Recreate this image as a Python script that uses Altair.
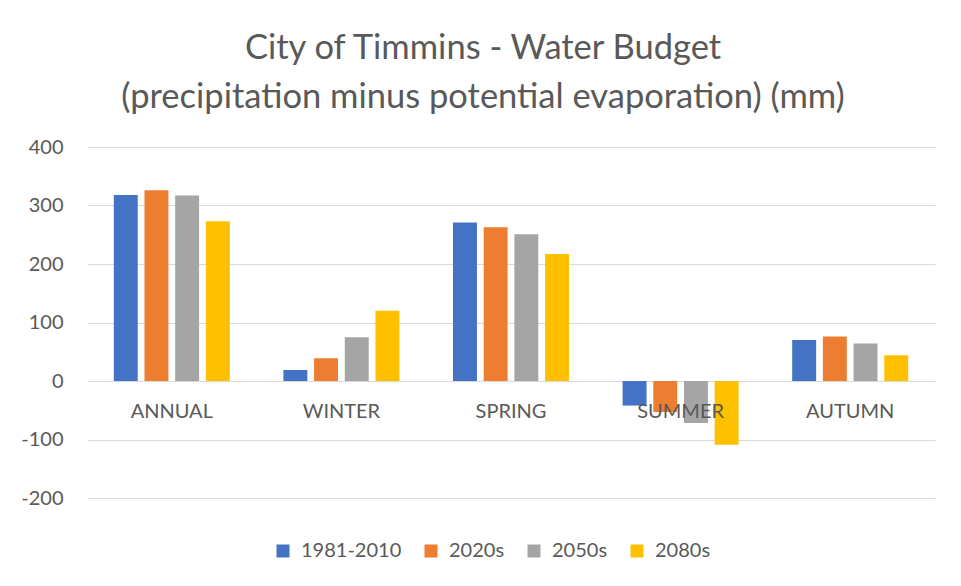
import altair as alt
import pandas as pd

categories = ["ANNUAL", "WINTER", "SPRING", "SUMMER", "AUTUMN"]
series = ["1981-2010", "2020s", "2050s", "2080s"]
colors = ["#4472C4", "#ED7D31", "#A5A5A5", "#FFC000"]
v_1981_2010 = [318, 19, 271, -42, 70]
v_2020s = [326, 39, 263, -53, 76]
v_2050s = [317, 75, 251, -72, 64]
v_2080s = [273, 120, 217, -109, 44]

rows = []
for s, vals in zip(series, [v_1981_2010, v_2020s, v_2050s, v_2080s]):
    for c, v in zip(categories, vals):
        rows.append({"season": c, "period": s, "value": v})
df = pd.DataFrame(rows)
cat_df = pd.DataFrame({"season": categories, "zero": [0] * len(categories)})

FONT = "Lato"
GREY = "#595959"

x_scale = alt.Scale(domain=categories, paddingInner=0.316, paddingOuter=0.158)

bars = alt.Chart(df).mark_bar().encode(
    x=alt.X("season:N", scale=x_scale, axis=None, sort=categories),
    xOffset=alt.XOffset("period:N", sort=series,
                        scale=alt.Scale(paddingInner=0.22, paddingOuter=0)),
    y=alt.Y("value:Q", scale=alt.Scale(domain=[-200, 400], nice=False),
            axis=alt.Axis(values=[-200, -100, 0, 100, 200, 300, 400], title=None,
                          domain=False, ticks=False, labelPadding=24,
                          labelExpr="'' + datum.value",
                          labelFont=FONT, labelFontSize=20, labelColor=GREY,
                          gridColor="#d9d9d9", gridWidth=1)),
    color=alt.Color("period:N", sort=series,
                    scale=alt.Scale(domain=series, range=colors),
                    legend=alt.Legend(title=None, orient="none", direction="horizontal",
                                      legendX=186, legendY=394,
                                      symbolType="square", symbolSize=169,
                                      symbolStrokeWidth=0,
                                      labelFont=FONT, labelFontSize=20, labelColor=GREY,
                                      columnPadding=19, labelOffset=8)),
)

labels = alt.Chart(cat_df).mark_text(
    font=FONT, fontSize=20, color=GREY, baseline="middle", dy=31
).encode(
    x=alt.X("season:N", scale=x_scale, sort=categories, axis=None),
    y=alt.Y("zero:Q"),
    text="season:N",
)

chart = alt.layer(bars, labels).properties(
    width=848,
    height=351,
    background="white",
    padding={"left": 79, "top": 139, "right": 18, "bottom": 80},
    autosize=alt.AutoSizeParams(type="none"),
    title=alt.TitleParams(
        text=["City of Timmins - Water Budget",
              "(precipitation minus potential evaporation) (mm)"],
        font=FONT, fontSize=34.5, fontWeight="normal", color=GREY,
        anchor="middle", dx=-28, offset=22, lineHeight=49,
    ),
).configure_view(stroke=None)

chart.save("out.html", embed_options={"renderer": "svg", "actions": False})
